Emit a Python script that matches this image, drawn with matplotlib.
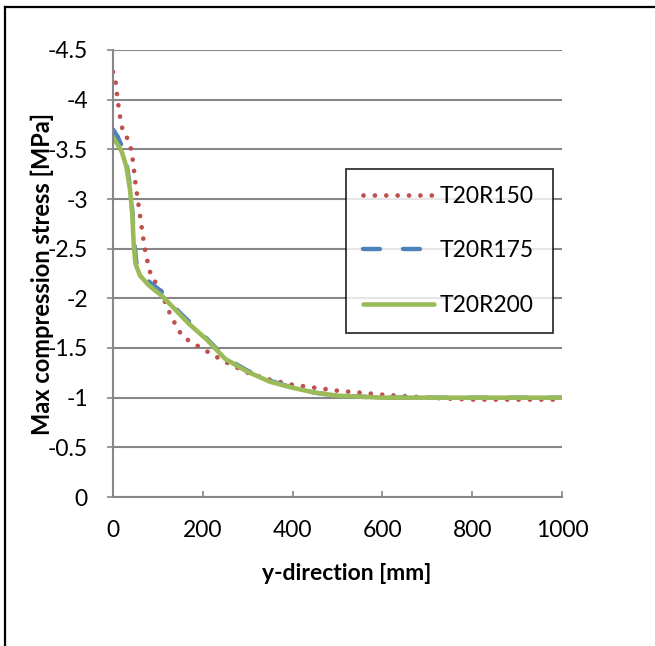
import matplotlib
matplotlib.use("Agg")
import matplotlib.pyplot as plt
from matplotlib.lines import Line2D

plt.rcParams['font.family'] = ['Lato', 'DejaVu Sans']

# ---- data ----
x_r150 = [0, 4, 10, 17, 22, 35, 42, 50, 60, 70, 80, 88, 103, 120, 143, 156, 178, 200,
          250, 300, 350, 400, 450, 500, 550, 600, 700, 800, 900, 1000]
y_r150 = [-4.28, -4.25, -4.01, -3.79, -3.68, -3.59, -3.47, -3.16, -2.84, -2.52, -2.30, -2.19,
          -2.13, -1.91, -1.70, -1.61, -1.55, -1.49, -1.36, -1.25, -1.18, -1.13, -1.10, -1.07,
          -1.05, -1.03, -1.00, -0.98, -0.98, -0.98]

x_r175 = [0, 10, 20, 30, 38, 43, 47, 52, 62, 85, 105, 125, 150, 180, 210, 250, 300, 350,
          400, 450, 500, 600, 700, 800, 900, 1000]
y_r175 = [-3.70, -3.63, -3.53, -3.36, -3.12, -2.88, -2.58, -2.36, -2.24, -2.15, -2.08, -1.97,
          -1.85, -1.72, -1.59, -1.40, -1.27, -1.17, -1.10, -1.05, -1.02, -1.00, -1.00, -1.00,
          -1.00, -1.00]

x_r200 = [0, 10, 20, 30, 38, 43, 46, 50, 60, 80, 110, 140, 170, 210, 250, 300, 350, 400,
          450, 500, 600, 700, 800, 900, 1000]
y_r200 = [-3.62, -3.55, -3.47, -3.32, -3.09, -2.85, -2.55, -2.35, -2.23, -2.13, -2.02, -1.88,
          -1.74, -1.58, -1.39, -1.26, -1.16, -1.10, -1.05, -1.02, -1.00, -1.00, -1.00, -1.00,
          -1.00]

series_names = ["T20R150", "T20R175", "T20R200"]
x_ticks = [0, 200, 400, 600, 800, 1000]
y_ticks = [0, -0.5, -1, -1.5, -2, -2.5, -3, -3.5, -4, -4.5]
y_ticklabels = ["0", "-0.5", "-1", "-1.5", "-2", "-2.5", "-3", "-3.5", "-4", "-4.5"]

RED = "#C0504D"
BLUE = "#4F81BD"
GREEN = "#9BBB59"
GRAY = "#878787"
FS = 16.5

W, H = 655, 646
fig = plt.figure(figsize=(W / 100, H / 100), dpi=100)
ax = fig.add_axes([113 / W, 1 - 497 / H, (562 - 113) / W, (497 - 50) / H])

ax.plot(x_r150, y_r150, color=RED, lw=3.4, linestyle=(0, (0.01, 2.4)),
        dash_capstyle='round', label=series_names[0])
ax.plot(x_r175, y_r175, color=BLUE, lw=3.2, linestyle=(0, (3.8, 5.2)),
        dash_capstyle='round', label=series_names[1])
ax.plot(x_r200, y_r200, color=GREEN, lw=3.3, solid_capstyle='round',
        label=series_names[2])

ax.set_xlim(0, 1000)
ax.set_ylim(0, -4.5)
ax.set_xticks(x_ticks)
ax.set_xticklabels([str(v) for v in x_ticks])
ax.set_yticks(y_ticks)
ax.set_yticklabels(y_ticklabels)

ax.yaxis.grid(True, color=GRAY, lw=1.5)
ax.set_axisbelow(True)
for s in ['top', 'right']:
    ax.spines[s].set_visible(False)
for s in ['left', 'bottom']:
    ax.spines[s].set_color(GRAY)
    ax.spines[s].set_linewidth(1.5)

ax.tick_params(axis='y', direction='out', length=4.5, width=1.2, color=GRAY,
               labelsize=FS, pad=13.5)
ax.tick_params(axis='x', direction='in', length=4.5, width=1.2, color=GRAY,
               labelsize=FS, pad=16.5)

ax.set_xlabel("y-direction [mm]", fontsize=FS, fontweight='bold')
ax.xaxis.set_label_coords((346.5 - 113) / 449, -(574 - 497) / 447)
ax.set_ylabel("Max compression stress [MPa]", fontsize=17, fontweight='bold')
ax.yaxis.set_label_coords(-(113 - 42) / 449, 0.5)
ax.xaxis.label.set_va('center')
ax.yaxis.label.set_va('center')

leg_x0 = (346 - 113) / 449
leg_y0 = 1 - (333 - 50) / 447
leg_w = (553 - 346) / 449
leg_h = (333 - 169) / 447
leg = ax.legend(loc='upper left',
                bbox_to_anchor=(leg_x0, leg_y0, leg_w, leg_h),
                mode='expand', fontsize=FS, frameon=True, fancybox=False,
                handlelength=3.1, labelspacing=1.45, borderpad=0.75,
                handletextpad=0.25, borderaxespad=0)
leg.get_frame().set_edgecolor('black')
leg.get_frame().set_linewidth(1.3)

# outer frame
fig.add_artist(Line2D([5 / W, 5 / W], [0, 1 - 7 / H], color='black', lw=1.6,
                      transform=fig.transFigure))
fig.add_artist(Line2D([5 / W, 1], [1 - 7 / H, 1 - 7 / H], color='black', lw=1.6,
                      transform=fig.transFigure))

fig.savefig("out.png", dpi=100)
